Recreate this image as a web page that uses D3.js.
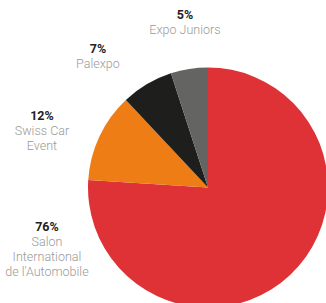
<!DOCTYPE html>
<html>
<head>
<meta charset="utf-8">
<script src="https://cdn.jsdelivr.net/npm/d3@7"></script>
<style>
  html, body { margin: 0; padding: 0; background: #fff; }
  svg { display: block; }
</style>
</head>
<body>
<div id="chart"></div>
<script>
// data
let events = ["Salon International de l'Automobile", "Swiss Car Event", "Palexpo", "Expo Juniors"];
let shares = [76, 12, 7, 5];
let labelLines = [["Salon", "International", "de l'Automobile"], ["Swiss Car", "Event"], ["Palexpo"], ["Expo Juniors"]];
let colorsList = ["#de3237", "#ef7d15", "#1e1e1c", "#646463"];

// label placement (degrees from 12 o'clock, distance from centre)
let labelAngle = [-105.1, 292.1, 320.7, 352.2];
let labelRadius = [166.8, 179.2, 173.8, 170];

let dim = {
    'width': 326,
    'height': 303
};

let center = [208, 187.5];
let radius = 120;

let svg = d3.select('#chart').append('svg')
    .attr('width', dim.width)
    .attr('height', dim.height);

let rows = events.map((e, i) => ({
    event: e,
    share: shares[i],
    lines: labelLines[i],
    color: colorsList[i],
    angle: labelAngle[i] * Math.PI / 180,
    r: labelRadius[i]
}));

let pieGen = d3.pie()
    .sort(null)
    .value(d => d.share);

let arcGen = d3.arc()
    .innerRadius(0)
    .outerRadius(radius);

let g = svg.append('g')
    .attr('transform', `translate(${center[0]},${center[1]})`);

g.selectAll('path')
    .data(pieGen(rows))
    .join('path')
    .attr('d', arcGen)
    .attr('fill', d => d.data.color);

//labels
let labels = g.selectAll('g.label')
    .data(rows)
    .join('g')
    .attr('class', 'label')
    .attr('transform', d => {
        let p = d3.pointRadial(d.angle, d.r);
        return `translate(${p[0]},${p[1]})`;
    });

labels.append('text')
    .attr('text-anchor', 'middle')
    .attr('font-family', 'Roboto, sans-serif')
    .attr('font-weight', 700)
    .attr('font-size', 12.5)
    .attr('fill', '#222')
    .text(d => d.share + '%');

labels.each(function(d) {
    d3.select(this).selectAll('text.name')
        .data(d.lines)
        .join('text')
        .attr('class', 'name')
        .attr('text-anchor', 'middle')
        .attr('y', (t, i) => 15 * (i + 1))
        .attr('font-family', 'Roboto, sans-serif')
        .attr('font-weight', 300)
        .attr('font-size', 12.5)
        .attr('fill', '#9a9a9a')
        .text(t => t);
});
</script>
</body>
</html>
